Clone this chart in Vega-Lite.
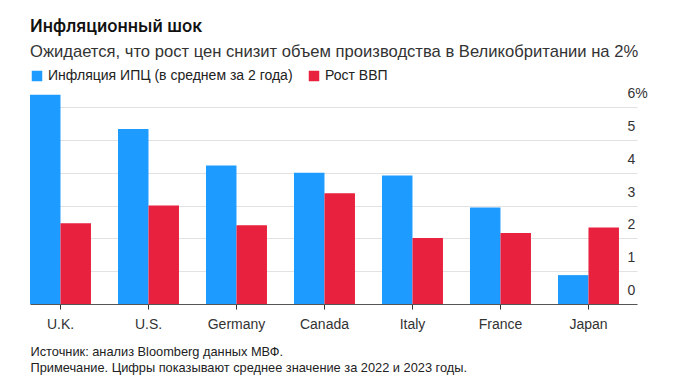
{
  "$schema": "https://vega.github.io/schema/vega-lite/v6.json",
  "autosize": "none",
  "width": 607,
  "height": 212,
  "padding": {"left": 30, "top": 92, "right": 36, "bottom": 82},
  "background": "white",
  "config": {
    "font": "Liberation Sans",
    "view": {"stroke": null}
  },
  "title": {
    "text": "Инфляционный шок",
    "subtitle": "Ожидается, что рост цен снизит объем производства в Великобритании на 2%",
    "anchor": "start",
    "frame": "group",
    "font": "Roboto",
    "fontSize": 18,
    "fontWeight": 500,
    "color": "#111",
    "subtitleFont": "Liberation Sans",
    "subtitleFontSize": 16.6,
    "subtitleColor": "#333",
    "subtitlePadding": 8,
    "offset": 8
  },
  "data": {
    "values": [
      {"country": "U.K.", "series": "Инфляция ИПЦ (в среднем за 2 года)", "value": 6.37},
      {"country": "U.K.", "series": "Рост ВВП", "value": 2.46},
      {"country": "U.S.", "series": "Инфляция ИПЦ (в среднем за 2 года)", "value": 5.33},
      {"country": "U.S.", "series": "Рост ВВП", "value": 3.0},
      {"country": "Germany", "series": "Инфляция ИПЦ (в среднем за 2 года)", "value": 4.22},
      {"country": "Germany", "series": "Рост ВВП", "value": 2.4},
      {"country": "Canada", "series": "Инфляция ИПЦ (в среднем за 2 года)", "value": 4.0},
      {"country": "Canada", "series": "Рост ВВП", "value": 3.37},
      {"country": "Italy", "series": "Инфляция ИПЦ (в среднем за 2 года)", "value": 3.91},
      {"country": "Italy", "series": "Рост ВВП", "value": 2.01},
      {"country": "France", "series": "Инфляция ИПЦ (в среднем за 2 года)", "value": 2.94},
      {"country": "France", "series": "Рост ВВП", "value": 2.16},
      {"country": "Japan", "series": "Инфляция ИПЦ (в среднем за 2 года)", "value": 0.88},
      {"country": "Japan", "series": "Рост ВВП", "value": 2.33}
    ]
  },
  "mark": {"type": "bar"},
  "encoding": {
    "x": {
      "field": "country",
      "type": "nominal",
      "sort": ["U.K.", "U.S.", "Germany", "Canada", "Italy", "France", "Japan"],
      "scale": {"paddingInner": 0.307, "paddingOuter": 0.1025, "align": 0},
      "axis": {
        "title": ["Источник: анализ Bloomberg данных МВФ.", "Примечание. Цифры показывают среднее значение за 2022 и 2023 годы."],
        "titleAnchor": "start",
        "titleAlign": "left",
        "titleBaseline": "top",
        "titleFontSize": 12.8,
        "titleFontWeight": "normal",
        "titleColor": "#222",
        "titleLineHeight": 16,
        "titlePadding": 14,
        "labelAngle": 0,
        "labelFontSize": 14,
        "labelColor": "#333",
        "labelPadding": 8,
        "domain": true,
        "domainColor": "#555",
        "domainWidth": 1,
        "ticks": true,
        "tickColor": "#333",
        "tickSize": 5,
        "grid": false
      }
    },
    "xOffset": {
      "field": "series",
      "type": "nominal",
      "sort": ["Инфляция ИПЦ (в среднем за 2 года)", "Рост ВВП"],
      "scale": {"paddingInner": 0, "paddingOuter": 0}
    },
    "y": {
      "field": "value",
      "type": "quantitative",
      "scale": {"domain": [0, 6.457], "nice": false, "zero": true},
      "axis": {
        "orient": "right",
        "title": null,
        "values": [0, 1, 2, 3, 4, 5, 6],
        "labelExpr": "datum.value == 6 ? '6%' : datum.label",
        "labelAlign": "left",
        "labelBaseline": "middle",
        "labelOffset": -13.5,
        "labelPadding": -10,
        "labelOverlap": false,
        "labelFontSize": 14,
        "labelColor": "#333",
        "domain": false,
        "ticks": false,
        "grid": true,
        "gridColor": "#e2e2e2",
        "gridWidth": 1
      }
    },
    "color": {
      "field": "series",
      "type": "nominal",
      "sort": ["Инфляция ИПЦ (в среднем за 2 года)", "Рост ВВП"],
      "scale": {"range": ["#1E9BFF", "#E8213F"]},
      "legend": {
        "title": null,
        "orient": "none",
        "direction": "horizontal",
        "legendX": 0,
        "legendY": -23,
        "symbolType": "square",
        "symbolSize": 110,
        "symbolStrokeWidth": 0,
        "labelFontSize": 14,
        "labelLimit": 0,
        "labelColor": "#222",
        "labelOffset": 4,
        "columnPadding": 14
      }
    }
  }
}
